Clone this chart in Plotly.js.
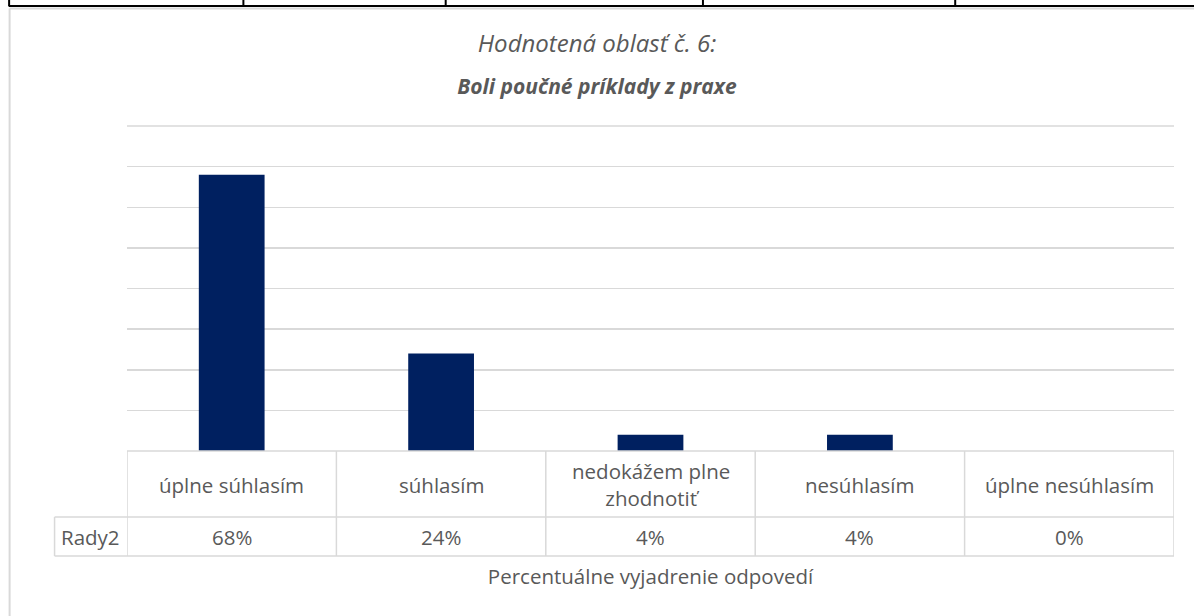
<!DOCTYPE html>
<html>
<head>
<meta charset="utf-8">
<script src="https://cdn.plot.ly/plotly-3.0.1.min.js"></script>
<style>
html,body{margin:0;padding:0;background:#fff;}
#chart{width:1194px;height:616px;}
</style>
</head>
<body>
<div id="chart"></div>
<script>
// ---- data ----
const categories = ["úplne súhlasím", "súhlasím", "nedokážem plne zhodnotiť", "nesúhlasím", "úplne nesúhlasím"];
const categoryLabels = ["úplne súhlasím", "súhlasím", "nedokážem plne<br>zhodnotiť", "nesúhlasím", "úplne nesúhlasím"];
const values = [0.68, 0.24, 0.04, 0.04, 0.00];
const valueLabels = ["68%", "24%", "4%", "4%", "0%"];
const seriesName = "Rady2";
const titleLine1 = "Hodnotená oblasť č. 6:";
const titleLine2 = "Boli poučné príklady z praxe";
const axisTitle = "Percentuálne vyjadrenie odpovedí";

// ---- layout geometry (pixels) ----
const W = 1194, H = 616;
const L = 126.5, R = 1174.5, T = 126, B = 451;
const PW = R - L, PH = B - T;
const px = x => (x - L) / PW;
const py = y => 1 - (y - T) / PH;

const FONT = "Open Sans, sans-serif";
const TXT = "#595959";
const GRID = "#d9d9d9";

const shapes = [];
const line = (x0, y0, x1, y1, color, width, xref) => shapes.push({
  type: "line", xref: xref || "paper", yref: "paper",
  x0: x0, y0: y0, x1: x1, y1: y1,
  line: {color: color, width: width}, layer: "above"
});

// top gridline (range edge)
line(0, 1, 1, 1, GRID, 1.5);

// data table lines
const row1Bottom = 517, tableBottom = 556, labelLeft = 54;
line(px(L), py(B), px(R), py(B), GRID, 1.5);
line(px(labelLeft), py(row1Bottom), px(R), py(row1Bottom), GRID, 1.5);
line(px(labelLeft), py(tableBottom), px(R), py(tableBottom), GRID, 1.5);
for (let i = 0; i <= categories.length; i++) {
  line(i - 0.5, py(B), i - 0.5, py(tableBottom), GRID, 1.5, "x");
}
line(px(labelLeft), py(row1Bottom), px(labelLeft), py(tableBottom), GRID, 1.5);

// chart border (outer)
line(px(9), py(8.5), px(W + 2), py(8.5), GRID, 2);
line(px(9), py(8.5), px(9), py(H + 2), GRID, 2);
// page table line above the chart
line(px(8), py(6), px(W + 2), py(6), "#000", 2);
[8.5, 243, 445.5, 703, 955.5].forEach(x => line(px(x), py(-2), px(x), py(6), "#000", 2));

// annotations: table texts
const FS = 20.5;
const annotations = [];
categories.forEach((c, i) => {
  annotations.push({
    x: c, xref: "x", y: py(484.5), yref: "paper",
    text: categoryLabels[i], showarrow: false,
    font: {family: FONT, size: FS, color: TXT},
    xanchor: "center", yanchor: "middle"
  });
  annotations.push({
    x: c, xref: "x", y: py(537), yref: "paper",
    text: valueLabels[i], showarrow: false,
    font: {family: FONT, size: FS, color: TXT},
    xanchor: "center", yanchor: "middle"
  });
});
annotations.push({
  x: px(90), xref: "paper", y: py(537), yref: "paper",
  text: seriesName, showarrow: false,
  font: {family: FONT, size: FS, color: TXT},
  xanchor: "center", yanchor: "middle"
});

const trace = {
  type: "bar",
  x: categories,
  y: values,
  name: seriesName,
  marker: {color: "#002060"},
  hoverinfo: "skip"
};

const layout = {
  width: W, height: H,
  margin: {l: L, r: W - R, t: T, b: H - B, pad: 0},
  paper_bgcolor: "#fff",
  plot_bgcolor: "#fff",
  showlegend: false,
  bargap: 0.686,
  title: {
    text: "<span style='font-size:24px'><i>" + titleLine1 + "</i></span><br>" +
          "<span style='font-size:21px'><b><i>" + titleLine2 + "</i></b></span>",
    font: {family: FONT, size: 32, color: TXT},
    x: 0.5, xanchor: "center",
    y: 1 - 52 / H, yref: "container", yanchor: "middle"
  },
  xaxis: {
    type: "category",
    showticklabels: false,
    ticks: "",
    showgrid: false,
    zeroline: false,
    showline: false,
    range: [-0.5, categories.length - 0.5],
    fixedrange: true,
    title: {
      text: axisTitle,
      font: {family: FONT, size: 20.5, color: TXT},
      standoff: 118
    },
    automargin: false
  },
  yaxis: {
    range: [0, 0.8],
    dtick: 0.1,
    showticklabels: false,
    ticks: "",
    showgrid: true,
    gridcolor: GRID,
    gridwidth: 1.5,
    zeroline: false,
    showline: false,
    fixedrange: true,
    automargin: false
  },
  shapes: shapes,
  annotations: annotations
};

Plotly.newPlot("chart", [trace], layout, {displayModeBar: false, staticPlot: true});
</script>
</body>
</html>
